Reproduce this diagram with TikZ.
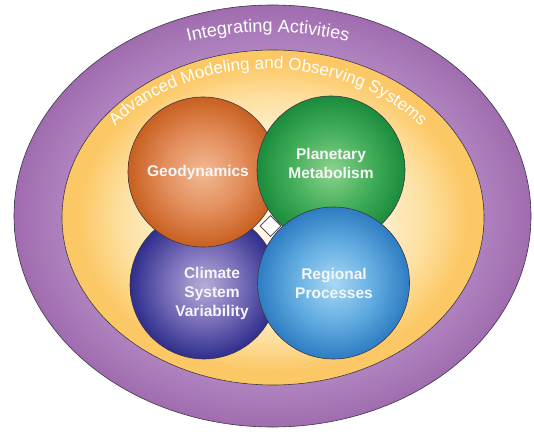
\documentclass[tikz,border=0pt]{standalone}
\usepackage{fontspec}
\setmainfont{Liberation Sans}
\usetikzlibrary{shapes.geometric,decorations.text}

\definecolor{outline}{RGB}{60,55,70}
\definecolor{purpA}{RGB}{182,140,198}
\definecolor{purpB}{RGB}{160,108,175}
\definecolor{yelA}{RGB}{255,246,228}
\definecolor{yelB}{RGB}{253,224,160}
\definecolor{yelC}{RGB}{252,200,102}
\definecolor{orA}{RGB}{241,186,146}
\definecolor{orB}{RGB}{227,142,92}
\definecolor{orC}{RGB}{200,96,32}
\definecolor{grA}{RGB}{140,210,142}
\definecolor{grB}{RGB}{70,176,92}
\definecolor{grC}{RGB}{26,140,60}
\definecolor{puA}{RGB}{186,172,216}
\definecolor{puB}{RGB}{118,108,184}
\definecolor{puC}{RGB}{46,46,140}
\definecolor{blA}{RGB}{168,216,246}
\definecolor{blB}{RGB}{100,174,226}
\definecolor{blC}{RGB}{46,124,194}
\definecolor{labelwhite}{RGB}{246,246,248}

\pgfdeclareradialshading{outershade}{\pgfpoint{0bp}{0bp}}{color(0bp)=(purpA); color(18bp)=(purpA); color(25bp)=(purpB); color(50bp)=(purpB)}
\pgfdeclareradialshading{innershade}{\pgfpoint{0bp}{0bp}}{color(0bp)=(yelA); color(10bp)=(yelA); color(18bp)=(yelB); color(23bp)=(yelC); color(25bp)=(yelC); color(50bp)=(yelC)}
\pgfdeclareradialshading{orangeball}{\pgfpoint{0bp}{0bp}}{color(0bp)=(orA); color(13bp)=(orB); color(25bp)=(orC); color(50bp)=(orC)}
\pgfdeclareradialshading{greenball}{\pgfpoint{0bp}{0bp}}{color(0bp)=(grA); color(13bp)=(grB); color(25bp)=(grC); color(50bp)=(grC)}
\pgfdeclareradialshading{purpleball}{\pgfpoint{0bp}{0bp}}{color(0bp)=(puA); color(13bp)=(puB); color(25bp)=(puC); color(50bp)=(puC)}
\pgfdeclareradialshading{blueball}{\pgfpoint{0bp}{0bp}}{color(0bp)=(blA); color(13bp)=(blB); color(25bp)=(blC); color(50bp)=(blC)}

\tikzset{
  ring/.style={ellipse, draw=outline, line width=0.6pt, inner sep=0pt},
  ball/.style={circle, draw=outline, line width=0.6pt, inner sep=0pt, minimum size=#1},
  balllabel/.style={text=labelwhite, font=\bfseries\fontsize{15.5}{19}\selectfont, align=center, inner sep=0pt},
}

\begin{document}
\begin{tikzpicture}[x=1pt,y=1pt]
\useasboundingbox (0,0) rectangle (534,431);
\fill[white] (0,0) rectangle (534,431);

% outer and inner rings
\node[ring, shading=outershade, minimum width=517, minimum height=422] (outer) at (272.5,215) {};
\node[ring, shading=innershade, minimum width=422, minimum height=335] (inner) at (273,213.5) {};

% curved titles
\path[decorate, decoration={text along path, text align=center,
  text={|\fontsize{18}{20}\selectfont\color{white}|Integrating Activities}}]
  (268,215) ++(160:250 and 184) arc[start angle=160, end angle=20, x radius=250, y radius=184];
\path[decorate, decoration={text along path, text align=center,
  text={|\fontsize{17}{20}\selectfont\color{white}|Advanced Modeling and Observing Systems}}]
  (268,214) ++(170:193 and 148) arc[start angle=170, end angle=10, x radius=193, y radius=148];

% central white diamond
\node[diamond, draw=outline, line width=0.6pt, fill=white, minimum width=21, minimum height=21, inner sep=0pt] (gap) at (270.5,205) {};

% spheres
\node[ball=148, shading=purpleball] (climate) at (204,146) {};
\node[ball=150, shading=orangeball] (geo) at (203,259) {};
\node[ball=148, shading=greenball] (planet) at (331,261) {};
\node[ball=152, shading=blueball] (regional) at (333.5,148) {};

% labels
\node[balllabel] (geoT) at (198,259) {Geodynamics};
\node[balllabel] (planetT) at (331,268) {Planetary\\Metabolism};
\node[balllabel] (climateT) at (212,138) {Climate\\System\\Variability};
\node[balllabel] (regionalT) at (334,148) {Regional\\Processes};
\end{tikzpicture}
\end{document}
